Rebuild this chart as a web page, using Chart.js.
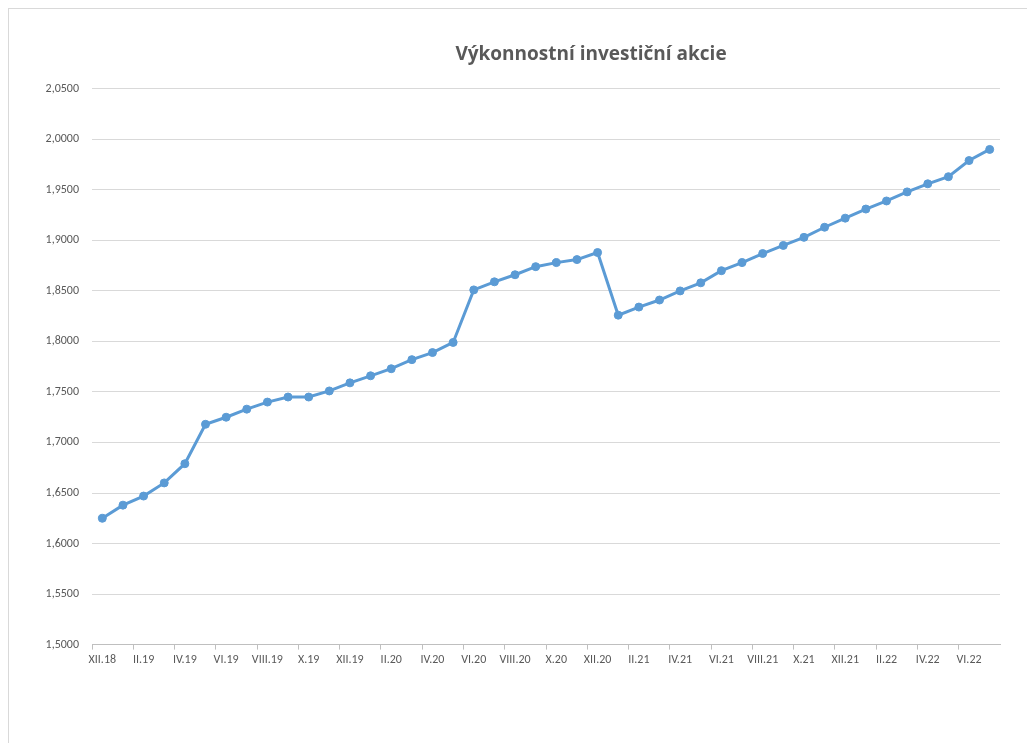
<!DOCTYPE html>
<html>
<head>
<meta charset="utf-8">
<script src="https://cdn.jsdelivr.net/npm/chart.js@4"></script>
<style>
  html, body { margin: 0; padding: 0; background: #fff; overflow: hidden; }
  #frame { position: absolute; left: 8px; top: 8px; width: 1164px; height: 780px; border: 1px solid #d9d9d9; }
  #chart { display: block; }
</style>
</head>
<body>
<div id="frame"><canvas id="chart" width="1164" height="780"></canvas></div>
<script>
const months = [
  'XII.18',
  'I.19', 'II.19', 'III.19', 'IV.19', 'V.19', 'VI.19', 'VII.19', 'VIII.19', 'IX.19', 'X.19', 'XI.19', 'XII.19',
  'I.20', 'II.20', 'III.20', 'IV.20', 'V.20', 'VI.20', 'VII.20', 'VIII.20', 'IX.20', 'X.20', 'XI.20', 'XII.20',
  'I.21', 'II.21', 'III.21', 'IV.21', 'V.21', 'VI.21', 'VII.21', 'VIII.21', 'IX.21', 'X.21', 'XI.21', 'XII.21',
  'I.22', 'II.22', 'III.22', 'IV.22', 'V.22', 'VI.22', 'VII.22'
];

const hodnoty = [
  1.625, 1.638, 1.647, 1.660, 1.679, 1.718, 1.725, 1.733, 1.740, 1.745, 1.745, 1.751,
  1.759, 1.766, 1.773, 1.782, 1.789, 1.799, 1.851, 1.859, 1.866, 1.874, 1.878, 1.881, 1.888,
  1.826, 1.834, 1.841, 1.850, 1.858, 1.870, 1.878, 1.887, 1.895, 1.903, 1.913, 1.922,
  1.931, 1.939, 1.948, 1.956, 1.963, 1.979, 1.990
];

const titulek = 'Výkonnostní investiční akcie';
const yMin = 1.5, yMax = 2.05, yKrok = 0.05;

const font = 'Calibri, Carlito, Lato, sans-serif';
const seda = '#595959';
const modra = '#5b9bd5';

new Chart(document.getElementById('chart'), {
  type: 'line',
  data: {
    labels: months,
    datasets: [{
      data: hodnoty,
      borderColor: modra,
      backgroundColor: modra,
      borderWidth: 3,
      pointRadius: 4,
      pointBorderWidth: 1,
      tension: 0
    }]
  },
  options: {
    responsive: false,
    animation: false,
    layout: { padding: { left: 0, right: 0, top: 0, bottom: 119 } },
    plugins: {
      legend: { display: false },
      tooltip: { enabled: false },
      title: {
        display: true,
        text: titulek,
        color: seda,
        font: { family: '"Open Sans", ' + font, size: 19, weight: 'bold' },
        padding: { top: 34, bottom: 23 }
      }
    },
    scales: {
      x: {
        offset: true,
        grid: {
          offset: true,
          drawOnChartArea: false,
          tickLength: 5,
          color: ctx => (ctx.index % 2 === 0 ? '#bfbfbf' : 'rgba(0,0,0,0)')
        },
        border: { display: true, color: '#bfbfbf' },
        ticks: {
          autoSkip: false,
          maxRotation: 0,
          color: seda,
          padding: 3,
          font: { family: font, size: 12 },
          callback: (v, i) => (i % 2 === 0 ? months[i] : '')
        }
      },
      y: {
        min: yMin,
        max: yMax,
        afterFit: s => { s.width = 83; },
        grid: { color: '#d9d9d9', drawTicks: false },
        border: { display: false },
        ticks: {
          stepSize: yKrok,
          color: seda,
          padding: 13,
          font: { family: font, size: 12 },
          callback: v => v.toFixed(4).replace('.', ',')
        }
      },
      // prazdne misto vpravo, aby titulek sedel na stred cele plochy
      yPravo: {
        position: 'right',
        min: yMin,
        max: yMax,
        afterFit: s => { s.width = 173; },
        grid: { drawOnChartArea: false, drawTicks: false },
        border: { display: false },
        ticks: { display: false }
      }
    }
  }
});
</script>
</body>
</html>
